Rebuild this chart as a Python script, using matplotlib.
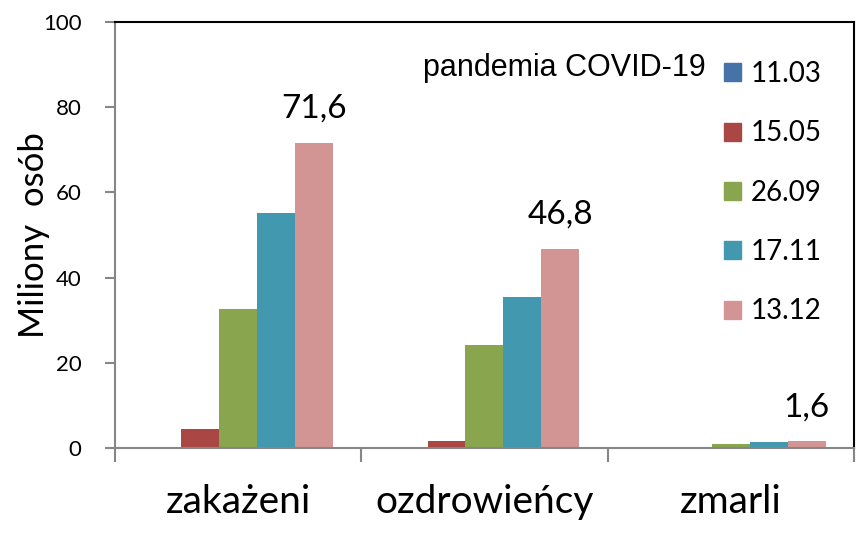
import matplotlib
matplotlib.use('Agg')
import numpy as np
import matplotlib.pyplot as plt
from matplotlib.patches import Patch

# %% data
categories = ['zakażeni', 'ozdrowieńcy', 'zmarli']
dates = ['11.03', '15.05', '26.09', '17.11', '13.12']
values = {
    '11.03': [0.12, 0.07, 0.004],
    '15.05': [4.5, 1.6, 0.3],
    '26.09': [32.7, 24.2, 1.0],
    '17.11': [55.1, 35.4, 1.3],
    '13.12': [71.6, 46.8, 1.6],
}
colors = ['#4572A7', '#AA4643', '#89A54E', '#4198AF', '#D39494']
label_text = ['71,6', '46,8', '1,6']

# %% plot
plt.rcParams['font.family'] = ['Lato', 'DejaVu Sans']
fig = plt.figure(figsize=(8.66, 5.34), dpi=100)
ax = fig.add_axes([0.1328, 0.161, 0.8532, 0.7978])

x = np.arange(len(categories))
w = 0.154
for i, d in enumerate(dates):
    ax.bar(x + (i - 2) * w, values[d], w, color=colors[i], label=d)

last = values[dates[-1]]
for xi, v, t in zip(x, last, label_text):
    ax.text(xi + 2 * w, v + 4.5, t, ha='center', va='bottom', fontsize=24)

ax.set_xlim(-0.5, 2.5)
ax.set_ylim(0, 100)
ax.set_yticks(range(0, 101, 20))
ax.set_xticks(x)
ax.set_xticklabels(categories, fontsize=28)
ax.set_xticks([-0.5, 0.5, 1.5, 2.5], minor=True)
ax.tick_params(axis='x', which='major', length=0, pad=26)
ax.tick_params(axis='x', which='minor', length=10, width=1.5, color='#868686')
ax.tick_params(axis='y', labelsize=16, length=7, width=1.5, color='#868686', pad=17)
ax.set_ylabel('Miliony  osób', fontsize=25, labelpad=-5)

for s in ['left', 'bottom']:
    ax.spines[s].set_color('#868686')
    ax.spines[s].set_linewidth(1.5)
for s in ['top', 'right']:
    ax.spines[s].set_color('black')
    ax.spines[s].set_linewidth(1.5)

handles = [Patch(color=c) for c in colors]
leg = ax.legend(handles, dates, loc='upper left', bbox_to_anchor=(0.790, 0.967),
                frameon=False, fontsize=20, labelspacing=1.2, handlelength=0.61,
                handleheight=0.61, handletextpad=0.36, borderpad=0.4)
ax.text(0.800, 0.893, 'pandemia COVID-19', transform=ax.transAxes,
        ha='right', va='center', fontsize=22, family='Liberation Sans')

fig.savefig('out.png', dpi=100)
